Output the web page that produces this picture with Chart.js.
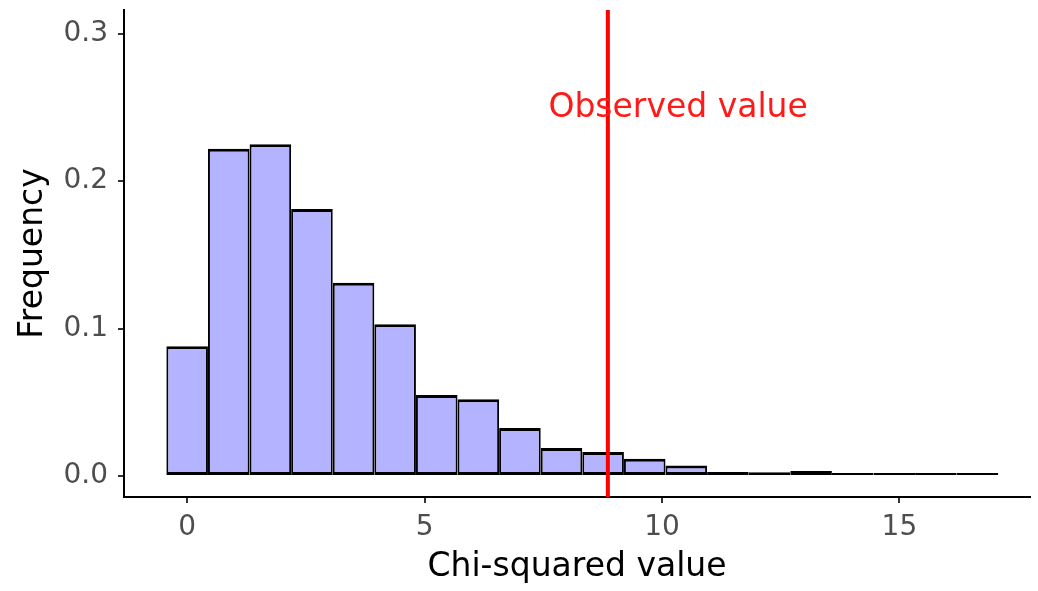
<!DOCTYPE html>
<html>
<head>
<meta charset="utf-8">
<script src="https://cdn.jsdelivr.net/npm/chart.js@4.4.1/dist/chart.umd.min.js"></script>
<style>
  html, body { margin: 0; padding: 0; background: #fff; }
  #wrap { width: 1038px; height: 591px; }
</style>
</head>
<body>
<div id="wrap"><canvas id="chart1" width="1038" height="591"></canvas></div>
<script>
// histogram bins (centres) and relative frequencies
const binCenters = [0, 0.876, 1.752, 2.628, 3.504, 4.38, 5.256, 6.132, 7.008, 7.884,
                    8.76, 9.636, 10.512, 11.388, 12.264, 13.14, 14.016, 14.892, 15.768, 16.644];
const freqs = [0.088, 0.222, 0.225, 0.181, 0.131, 0.103, 0.055, 0.052, 0.0325, 0.019,
               0.0163, 0.0118, 0.0072, 0.0028, 0.0025, 0.0035, 0.002, 0.0006, 0.0017, 0.0008];
const xTicks = [0, 5, 10, 15];
const yTicks = [0.0, 0.1, 0.2, 0.3];
const observed = 8.86;
const obsLabel = 'Observed value';
const obsLabelPos = { x: 10.34, y: 0.249 };

const fontFam = '"DejaVu Sans", sans-serif';
let ctx = document.getElementById('chart1').getContext('2d');

const obsLine = {
  id: 'obsLine',
  afterDatasetsDraw(chart) {
    const c = chart.ctx;
    const xs = chart.scales.x, ys = chart.scales.y;
    const area = chart.chartArea;
    const px = xs.getPixelForValue(observed);
    c.save();
    c.strokeStyle = '#ff0000';
    c.lineWidth = 4;
    c.beginPath();
    c.moveTo(px, area.top);
    c.lineTo(px, area.bottom);
    c.stroke();
    c.fillStyle = '#ff1a1a';
    c.font = '33px ' + fontFam;
    c.textAlign = 'center';
    c.textBaseline = 'middle';
    c.fillText(obsLabel, xs.getPixelForValue(obsLabelPos.x), ys.getPixelForValue(obsLabelPos.y));
    c.restore();
  }
};

function noPad(s) {
  s.paddingTop = 0; s.paddingBottom = 0; s.paddingLeft = 0; s.paddingRight = 0;
}

let myChart = new Chart(ctx, {
  type: 'bar',
  data: {
    datasets: [{
      data: binCenters.map((x, i) => ({ x: x, y: freqs[i] })),
      backgroundColor: 'rgb(179, 179, 255)',
      borderColor: '#000000',
      borderWidth: { top: 3, bottom: 3, left: 2, right: 2 },
      borderSkipped: false,
      inflateAmount: 0,
      minBarLength: 3,
      barPercentage: 1,
      categoryPercentage: 1
    }]
  },
  options: {
    responsive: false,
    animation: false,
    layout: { padding: { top: 10, right: 8, left: 0, bottom: 0 } },
    plugins: { legend: { display: false }, tooltip: { enabled: false } },
    scales: {
      x: {
        type: 'linear',
        offset: false,
        min: -1.33,
        max: 17.75,
        afterBuildTicks: s => { s.ticks = xTicks.map(v => ({ value: v })); },
        afterFit: s => { s.height = 94; noPad(s); },
        border: { display: true, color: '#000', width: 2 },
        grid: { display: true, offset: false, drawOnChartArea: false, drawTicks: true, tickLength: 6, color: '#333', lineWidth: 2 },
        ticks: { color: '#4d4d4d', font: { family: fontFam, size: 28 }, padding: 8, maxRotation: 0 },
        title: { display: true, text: 'Chi-squared value', color: '#000', font: { family: fontFam, size: 33 }, padding: { top: 0, bottom: 4 } }
      },
      y: {
        min: -0.0142,
        max: 0.316,
        afterBuildTicks: s => { s.ticks = yTicks.map(v => ({ value: v })); },
        afterFit: s => { s.width = 124; noPad(s); },
        border: { display: true, color: '#000', width: 2 },
        grid: { display: true, drawOnChartArea: false, drawTicks: true, tickLength: 6, color: '#333', lineWidth: 2 },
        ticks: { color: '#4d4d4d', font: { family: fontFam, size: 28 }, padding: 10, callback: v => v.toFixed(1) },
        title: { display: true, text: 'Frequency', color: '#000', font: { family: fontFam, size: 33 }, padding: { top: 14, bottom: 0 } }
      }
    }
  },
  plugins: [obsLine]
});
</script>
</body>
</html>
